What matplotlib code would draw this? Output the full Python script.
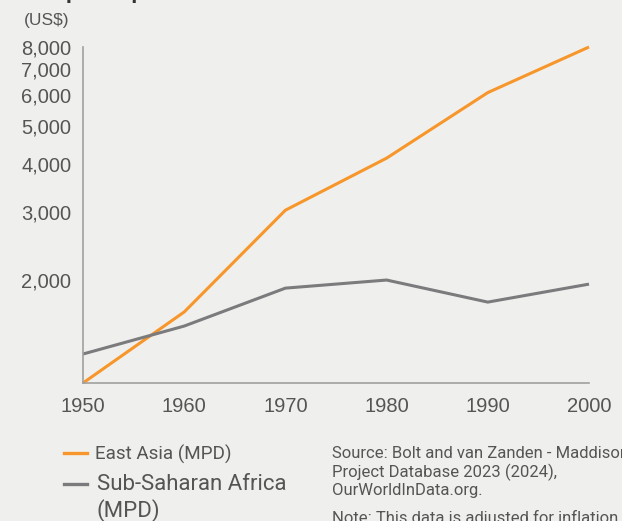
import matplotlib.pyplot as plt
from matplotlib.ticker import FixedLocator, NullLocator

# Data (GDP per capita, US$)
years = [1950, 1960, 1970, 1980, 1990, 2000]
east_asia = [1084, 1654, 3030, 4130, 6100, 8000]
ssa = [1288, 1521, 1906, 2000, 1754, 1952]
ytick_vals = [2000, 3000, 4000, 5000, 6000, 7000, 8000]
ytick_labels = ['2,000', '3,000', '4,000', '5,000', '6,000', '7,000', '8,000']

bg = '#eff0ed'
orange = '#f7962b'
grey = '#7b7b7d'
txt = '#555555'

plt.rcParams['font.family'] = ['Liberation Sans', 'DejaVu Sans']

W, H = 622, 521
fig = plt.figure(figsize=(W / 100, H / 100), dpi=100, facecolor=bg)
ax = fig.add_axes([83 / W, 1 - 383 / H, (589 - 83) / W, (383 - 47) / H])
ax.set_facecolor(bg)

ax.plot(years, east_asia, color=orange, lw=2.2, solid_capstyle='butt', clip_on=False)
ax.plot(years, ssa, color=grey, lw=2.2, solid_capstyle='butt', clip_on=False)

ax.set_yscale('log')
ax.set_ylim(east_asia[0], 8000)
ax.set_xlim(1950, 2000)
ax.yaxis.set_major_locator(FixedLocator(ytick_vals))
ax.yaxis.set_minor_locator(NullLocator())
ax.set_yticklabels(ytick_labels)
ax.set_xticks(years)

for s in ['top', 'right']:
    ax.spines[s].set_visible(False)
for s in ['left', 'bottom']:
    ax.spines[s].set_color('#a0a0a0')
    ax.spines[s].set_linewidth(1.2)
ax.tick_params(axis='y', length=0, pad=8.5, labelsize=14.5, colors=txt)
ax.tick_params(axis='x', length=0, pad=10, labelsize=14.5, colors=txt)

# cut-off title at the top and unit label
fig.text(12 / W, 1 + 1.6 / H, 'GDP per capita', fontsize=16, fontweight='bold',
         color='#333333', va='baseline', ha='left')
fig.text(24 / W, 1 - 20 / H, '(US$)', fontsize=12.5, color=txt, va='center', ha='left')

# legend drawn by hand
lfont = ['Roboto', 'DejaVu Sans']
fig.add_artist(plt.Line2D([64 / W, 87 / W], [1 - 453 / H] * 2, color=orange, lw=2.4))
fig.text(95 / W, 1 - 454 / H, 'East Asia (MPD)', fontsize=13.6, color=txt,
         va='center', ha='left', family=lfont)
fig.add_artist(plt.Line2D([64 / W, 87 / W], [1 - 484 / H] * 2, color=grey, lw=2.4))
fig.text(97 / W, 1 - 485 / H, 'Sub-Saharan Africa', fontsize=16, color=txt,
         va='center', ha='left', family=lfont)
fig.text(97 / W, 1 - 511 / H, '(MPD)', fontsize=16, color=txt,
         va='center', ha='left', family=lfont)

src_lines = ['Source: Bolt and van Zanden - Maddison Project',
             'Project Database 2023 (2024),',
             'OurWorldInData.org.']
src_lines[0] = 'Source: Bolt and van Zanden - Maddison'
for i, line in enumerate(src_lines):
    fig.text(332 / W, 1 - (453 + 19 * i) / H, line, fontsize=12, color=txt,
             va='center', ha='left', family=lfont)
fig.text(332 / W, 1 - 518 / H, 'Note: This data is adjusted for inflation and differences in the cost of living',
         fontsize=12, color=txt, va='center', ha='left', family=lfont)

fig.savefig('out.png', dpi=100, facecolor=bg)
